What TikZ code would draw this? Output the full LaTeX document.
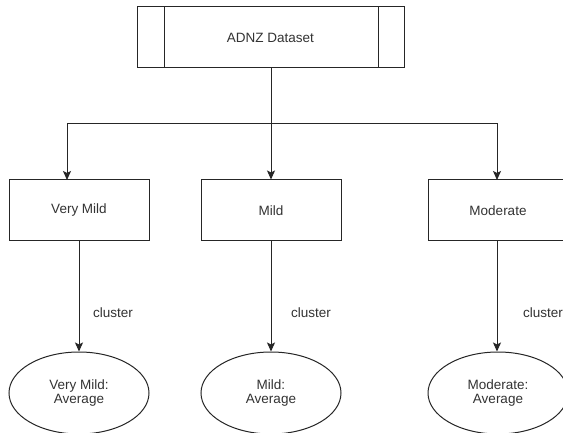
\documentclass[tikz,border=0pt]{standalone}
\usepackage{fontspec}
\setmainfont{Liberation Sans}
\usetikzlibrary{arrows.meta,shapes.geometric}
\begin{document}
\begin{tikzpicture}[x=1pt,y=-1pt,
  every node/.style={text=black!80, font=\fontsize{13.5}{13.5}\selectfont},
  boxnode/.style={draw=black!85, line width=1pt, minimum width=140pt, minimum height=61pt, inner sep=0pt},
  ovalnode/.style={ellipse, draw=black!85, line width=1pt, minimum width=140pt, minimum height=82pt, inner sep=0pt, align=center},
  conn/.style={draw=black!85, line width=1pt},
  arr/.style={conn, -{Stealth[length=9pt,width=8pt,inset=2pt]}},
  lbl/.style={anchor=west, inner sep=0pt}
]
\useasboundingbox (0,0) rectangle (563,433);
\fill[white] (0,0) rectangle (563,433);
% top process box
\node[boxnode, minimum width=267pt] (top) at (270.5,37.5) {ADNZ Dataset};
\draw[conn] (164,7) -- (164,68);
\draw[conn] (378,7) -- (378,68);
% category boxes
\node[boxnode] (vm) at (79,210.5) {Very Mild};
\node[boxnode] (mi) at (271,210.5) {Mild};
\node[boxnode] (mo) at (498,210.5) {Moderate};
% ellipses
\node[ovalnode] (vme) at (79,393) {Very Mild:\\Average};
\node[ovalnode] (mie) at (271,393) {Mild:\\Average};
\node[ovalnode] (moe) at (498,393) {Moderate:\\Average};
% branching connectors
\coordinate (j) at (271,124);
\coordinate (vmin) at (67,180);
\coordinate (moin) at (497,180);
\draw[conn] (top.south -| j) -- (j);
\draw[arr] (j) -| (vmin);
\draw[arr] (j) -- (mi.north -| j);
\draw[arr] (j) -| (moin);
% cluster connectors
\draw[arr] (vm.south) -- (vme.north);
\draw[arr] (mi.south) -- (mie.north);
\draw[arr] (mo.south -| moin) -- (moe.north -| moin);
\node[lbl] (c1) at (93,313) {cluster};
\node[lbl] (c2) at (291,313) {cluster};
\node[lbl] (c3) at (523,313) {cluster};
\end{tikzpicture}
\end{document}
